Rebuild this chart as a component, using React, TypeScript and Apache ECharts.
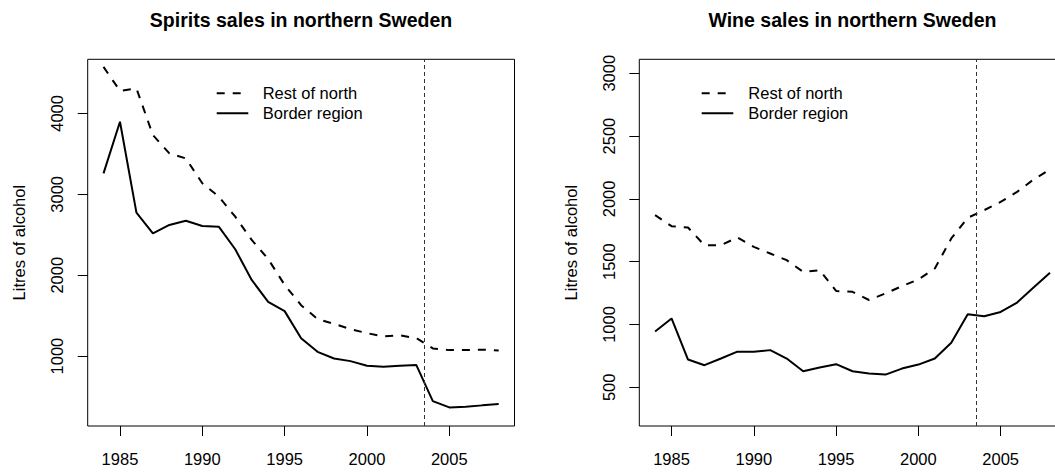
import React, { useEffect, useRef } from "react";
import * as echarts from "echarts";

const years = [1984, 1985, 1986, 1987, 1988, 1989, 1990, 1991, 1992, 1993, 1994, 1995, 1996, 1997, 1998, 1999, 2000, 2001, 2002, 2003, 2004, 2005, 2006, 2007, 2008];
const spiritsRest = [4575, 4279, 4309, 3732, 3506, 3444, 3136, 2971, 2724, 2436, 2200, 1880, 1630, 1457, 1399, 1333, 1284, 1243, 1256, 1222, 1095, 1074, 1074, 1080, 1070];
const spiritsBorder = [3259, 3897, 2773, 2518, 2621, 2674, 2609, 2600, 2321, 1942, 1670, 1556, 1222, 1053, 971, 938, 880, 868, 880, 889, 444, 366, 374, 391, 407];
const wineRest = [1870, 1783, 1772, 1631, 1631, 1693, 1618, 1565, 1512, 1419, 1432, 1267, 1260, 1195, 1247, 1305, 1358, 1446, 1685, 1849, 1910, 1976, 2056, 2154, 2234];
const wineBorder = [944, 1048, 721, 676, 729, 784, 784, 796, 729, 628, 657, 684, 628, 609, 601, 649, 681, 729, 854, 1082, 1066, 1100, 1175, 1294, 1411];
const xTicks = [1985, 1990, 1995, 2000, 2005];
const spiritsTicks = [1000, 2000, 3000, 4000];
const wineTicks = [500, 1000, 1500, 2000, 2500, 3000];
const cutoffYear = 2003.5;
const titles = ["Spirits sales in northern Sweden", "Wine sales in northern Sweden"];
const legendNames = ["Rest of north", "Border region"];
const yName = "Litres of alcohol";

const FONT = '"Liberation Sans", Arial, Helvetica, sans-serif';

export default function App() {
  const ref = useRef<HTMLDivElement>(null);
  useEffect(() => {
    if (!ref.current) return;
    const chart = echarts.init(ref.current, null, { renderer: "svg" });
    const pair = (arr: number[]) => years.map((y, i) => [y, arr[i]]);
    const plain = (v: number) => String(v);
    const grids = [
      { left: 87.7, top: 59.3, width: 426.8, height: 366.7 },
      { left: 639.3, top: 59.3, width: 426.5, height: 366.7 },
    ];
    const xAxis = grids.map((_, i) => ({
      type: "value",
      gridIndex: i,
      min: 1983.04,
      max: 2008.96,
      axisLine: { show: false },
      splitLine: { show: false },
      axisTick: { show: true, customValues: xTicks, length: 10, lineStyle: { color: "#000" } },
      axisLabel: { customValues: xTicks, formatter: plain, margin: 24, color: "#000", fontSize: 16.5, fontFamily: FONT },
    }));
    const yAxis = [
      { min: 136, max: 4669, ticks: spiritsTicks },
      { min: 192, max: 3111, ticks: wineTicks },
    ].map((a, i) => ({
      type: "value",
      gridIndex: i,
      min: a.min,
      max: a.max,
      name: yName,
      nameLocation: "middle",
      nameRotate: 90,
      nameGap: 60,
      nameTextStyle: { color: "#000", fontSize: 16.5, fontFamily: FONT },
      axisLine: { show: false },
      splitLine: { show: false },
      axisTick: { show: true, customValues: a.ticks, length: 10, lineStyle: { color: "#000" } },
      axisLabel: { customValues: a.ticks, formatter: plain, rotate: 90, margin: 22, color: "#000", fontSize: 16.5, fontFamily: FONT },
    }));
    const lineSeries = (data: number[], idx: number, dashed: boolean, withMark: boolean) => ({
      type: "line",
      xAxisIndex: idx,
      yAxisIndex: idx,
      data: pair(data),
      showSymbol: false,
      symbol: "none",
      lineStyle: { color: "#000", width: 2, type: dashed ? [8, 8] : "solid" },
      ...(withMark
        ? {
            markLine: {
              silent: true,
              symbol: "none",
              label: { show: false },
              lineStyle: { color: "#333", width: 1, type: [4, 3] },
              data: [{ xAxis: cutoffYear }],
            },
          }
        : {}),
    });
    const legend = (textX: number, lineX1: number, lineX2: number) => [
      { type: "line", shape: { x1: lineX1, y1: 93.3, x2: lineX2, y2: 93.3 }, style: { stroke: "#000", lineWidth: 2, lineDash: [8, 8] } },
      { type: "line", shape: { x1: lineX1, y1: 113.3, x2: lineX2, y2: 113.3 }, style: { stroke: "#000", lineWidth: 2 } },
      { type: "text", x: textX, y: 93.3, style: { text: legendNames[0], font: `16.5px ${FONT}`, fill: "#000", align: "left", verticalAlign: "middle" } },
      { type: "text", x: textX, y: 113.3, style: { text: legendNames[1], font: `16.5px ${FONT}`, fill: "#000", align: "left", verticalAlign: "middle" } },
    ];
    chart.setOption({
      animation: false,
      backgroundColor: "#fff",
      grid: grids.map((g) => ({ ...g, show: true, borderColor: "#000", borderWidth: 1, backgroundColor: "transparent" })),
      xAxis,
      yAxis,
      series: [
        lineSeries(spiritsRest, 0, true, true),
        lineSeries(spiritsBorder, 0, false, false),
        lineSeries(wineRest, 1, true, true),
        lineSeries(wineBorder, 1, false, false),
      ],
      graphic: [
        { type: "text", x: 301, y: 19.5, style: { text: titles[0], font: `bold 19.5px ${FONT}`, fill: "#000", align: "center", verticalAlign: "middle" } },
        { type: "text", x: 852.5, y: 19.5, style: { text: titles[1], font: `bold 19.5px ${FONT}`, fill: "#000", align: "center", verticalAlign: "middle" } },
        ...legend(262.7, 216.7, 248.3),
        ...legend(748.3, 701.7, 733.3),
      ],
    });
    return () => chart.dispose();
  }, []);
  return <div ref={ref} style={{ position: "fixed", left: 0, top: 0, width: 1070, height: 472 }} />;
}
